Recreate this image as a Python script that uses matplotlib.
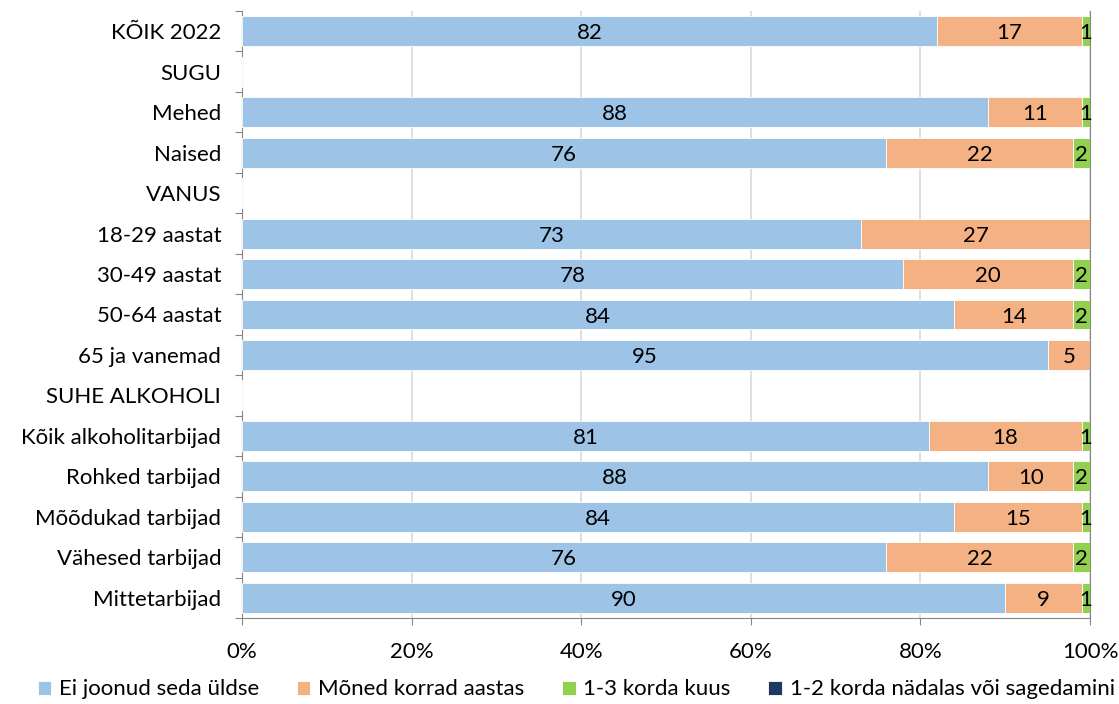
import numpy as np
import matplotlib
matplotlib.use("Agg")
import matplotlib.pyplot as plt

plt.rcParams['font.family'] = ['Lato', 'DejaVu Sans']

categories = ["KÕIK 2022", "SUGU", "Mehed", "Naised", "VANUS", "18-29 aastat",
              "30-49 aastat", "50-64 aastat", "65 ja vanemad", "SUHE ALKOHOLI",
              "Kõik alkoholitarbijad", "Rohked tarbijad", "Mõõdukad tarbijad",
              "Vähesed tarbijad", "Mittetarbijad"]
series_names = ["Ei joonud seda üldse", "Mõned korrad aastas", "1-3 korda kuus",
                "1-2 korda nädalas või sagedamini"]
ei_joonud = [82, 0, 88, 76, 0, 73, 78, 84, 95, 0, 81, 88, 84, 76, 90]
moned_korrad = [17, 0, 11, 22, 0, 27, 20, 14, 5, 0, 18, 10, 15, 22, 9]
kuus = [1, 0, 1, 2, 0, 0, 2, 2, 0, 0, 1, 2, 1, 2, 1]
nadalas = [0] * 15

colors = ["#9DC3E6", "#F4B183", "#92D050", "#1F3864"]
fs = 16

fig = plt.figure(figsize=(11.19, 7.04), dpi=100)
ax = fig.add_axes([242/1119, 1-618/704, (1090-242)/1119, (618-11)/704])

y = np.arange(len(categories))
left = np.zeros(len(categories))
for name, vals, col in zip(series_names, [ei_joonud, moned_korrad, kuus, nadalas], colors):
    vals = np.array(vals, dtype=float)
    ax.barh(y, vals, left=left, height=0.74, color=col, label=name,
            edgecolor="white", linewidth=0.6, zorder=3)
    for yi, (l, v) in enumerate(zip(left, vals)):
        if v > 0:
            ax.text(l + v/2, yi + 0.05, "%d" % v, ha="center", va="center",
                    fontsize=fs, color="black", zorder=4)
    left += vals

ax.set_xlim(0, 100)
ax.set_ylim(len(categories) - 0.5, -0.5)
ax.set_xticks(np.arange(0, 101, 20))
ax.set_xticklabels(["%d%%" % v for v in range(0, 101, 20)], fontsize=fs)
ax.tick_params(axis="x", length=5, color="#868686", pad=12)
ax.xaxis.grid(True, color="#D9D9D9", linewidth=1.2, zorder=0)

ax.set_yticks(np.arange(-0.5, len(categories), 1))
ax.set_yticklabels([])
ax.set_yticks(y, minor=True)
ax.set_yticklabels(categories, minor=True, fontsize=fs)
ax.tick_params(axis="y", which="major", length=5, color="#868686")
ax.tick_params(axis="y", which="minor", length=0, pad=15)

for s in ["left", "bottom", "right"]:
    ax.spines[s].set_color("#868686")
ax.spines["top"].set_visible(False)

fig.legend(loc="lower center", bbox_to_anchor=(0.515, -0.022), ncol=4, frameon=False,
           fontsize=fs, handlelength=0.6, handleheight=0.6, handletextpad=0.35,
           columnspacing=1.7)

fig.savefig("out.png", dpi=100)
